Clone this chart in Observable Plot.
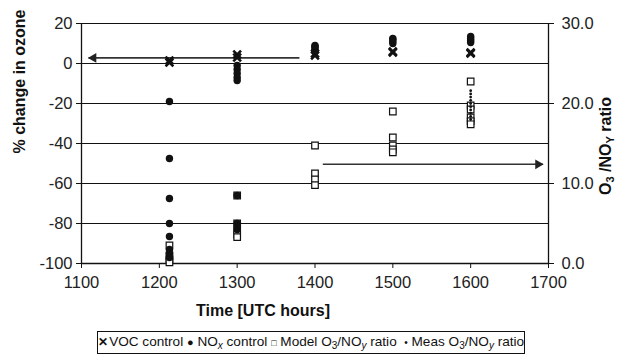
<!DOCTYPE html>
<html>
<head>
<meta charset="utf-8">
<script src="https://cdn.jsdelivr.net/npm/d3@7"></script>
<script src="https://cdn.jsdelivr.net/npm/@observablehq/plot@0.6"></script>
<style>
  body { margin: 0; background: #fff; }
  #wrap { position: relative; width: 621px; height: 358px; font-family: "Liberation Sans", Arial, sans-serif; }
  #legend { position: absolute; left: 97px; top: 331px; width: 428px; height: 23px; box-sizing: border-box;
    border: 1px solid #111; font-size: 13.6px; line-height: 20px; text-align: center; white-space: nowrap; color: #111; }
  #legend sub { font-size: 10px; line-height: 0; vertical-align: -3px; }
</style>
</head>
<body>
<div id="wrap"><div id="chart"></div>
<div id="legend"><b style="font-size:12px">&#x2715;</b>&#8202;VOC control <span style="font-size:11px">&#9679;</span> NO<sub><i>x</i></sub> control <span style="font-size:9px">&#9633;</span> Model O<sub>3</sub>/NO<sub><i>y</i></sub> ratio &#160;<span style="font-size:10px">&#8226;</span> Meas O<sub>3</sub>/NO<sub><i>y</i></sub> ratio</div>
</div>
<script>
// ---- data ----
const xTicks = [1100, 1200, 1300, 1400, 1500, 1600, 1700];
const leftTicks = [-100, -80, -60, -40, -20, 0, 20];
const rightTicks = [0, 10, 20, 30];

const vocTime = [1213, 1213, 1300, 1300, 1400, 1400, 1500, 1500, 1600, 1600];
const vocPct  = [1.5, 0.5, 4.5, 3, 4, 5, 5.5, 6, 5, 5.5];

const noxTime = [1213, 1213, 1213, 1213, 1213, 1213, 1213, 1213,
                 1300, 1300, 1300, 1300, 1300, 1300, 1300, 1300,
                 1400, 1400, 1400, 1400, 1400,
                 1500, 1500, 1500, 1500,
                 1600, 1600, 1600, 1600];
const noxPct  = [-19, -47.5, -67.5, -80, -86.5, -93, -95, -97,
                 -1, -3, -5, -7, -8.5, -66, -80, -83,
                 6, 7, 8, 8.5, 9,
                 10, 11, 12, 12.5,
                 10.5, 11.5, 12.5, 13.5];

const modelTime  = [1213, 1213, 1213, 1213,
                    1300, 1300, 1300, 1300, 1300,
                    1400, 1400, 1400, 1400,
                    1500, 1500, 1500, 1500, 1500,
                    1600, 1600, 1600, 1600, 1600, 1600];
const modelRatio = [2.25, 1, 0.5, 0.15,
                    8.5, 5, 4.25, 3.6, 3.3,
                    14.75, 11.25, 10.5, 9.8,
                    19, 15.75, 14.75, 14.25, 13.9,
                    22.75, 19.75, 19.25, 18.25, 17.8, 17.4];

const measTime  = [1600, 1600, 1600, 1600, 1600, 1600, 1600, 1600, 1600, 1600];
const measRatio = [21.6, 21.2, 20.8, 20.4, 20, 19.6, 19.2, 18.8, 18.4, 18];

// arrows: start time, end time (tip), axis, value on that axis
const arrowFrom  = [1380, 1410];
const arrowTo    = [1109, 1693];
const arrowAxis  = ["left", "right"];
const arrowValue = [2.8, 12.4];

// ---- build ----
const toLeft = r => r * 4 - 100;          // right-axis ratio (0..30) onto left scale (-100..20)
const fromLeft = v => (v + 100) / 4;

const voc = vocTime.map((t, i) => ({t, v: vocPct[i]}));
const nox = noxTime.map((t, i) => ({t, v: noxPct[i]}));
const model = modelTime.map((t, i) => ({t, v: toLeft(modelRatio[i])}));
const meas = measTime.map((t, i) => ({t, v: toLeft(measRatio[i])}));
const arrows = arrowFrom.map((f, i) => ({
  x1: f, x2: arrowTo[i],
  y: arrowAxis[i] === "left" ? arrowValue[i] : toLeft(arrowValue[i]),
  dir: arrowTo[i] < f ? -1 : 1
}));

const ink = "#111";
const chart = Plot.plot({
  width: 621, height: 326,
  marginLeft: 81, marginRight: 73, marginTop: 23, marginBottom: 63,
  x: {domain: [1100, 1700]},
  y: {domain: [-100, 20]},
  style: {fontFamily: "'Liberation Sans', Arial, sans-serif", fontSize: "16.5px", color: "#222", background: "#fff"},
  marks: [
    Plot.gridY(leftTicks.filter(d => d > -100), {stroke: ink, strokeOpacity: 1, strokeWidth: 1}),
    Plot.ruleY([-100], {stroke: ink, strokeWidth: 1.3}),
    Plot.ruleX([1100], {stroke: ink, strokeWidth: 1.3}),
    Plot.ruleX([1700], {stroke: ink, strokeWidth: 1.3}),
    Plot.axisX(xTicks, {tickSize: 5, tickPadding: 8, label: null, tickFormat: d => String(d), stroke: ink}),
    Plot.axisY(leftTicks, {anchor: "left", tickSize: 5, tickPadding: 4, label: null, tickFormat: d => String(d), stroke: ink}),
    Plot.axisY(rightTicks.map(toLeft), {anchor: "right", tickSize: 5, tickPadding: 8, label: null,
      tickFormat: d => fromLeft(d).toFixed(1), stroke: ink}),
    // arrows
    Plot.link(arrows, {x1: "x1", x2: "x2", y1: "y", y2: "y", stroke: "#333", strokeWidth: 1.6}),
    Plot.dot(arrows.filter(d => d.dir < 0), {x: "x2", y: "y", symbol: "triangle", r: 3.6, fill: "#222", stroke: "none",
      rotate: -90, dx: 5}),
    Plot.dot(arrows.filter(d => d.dir > 0), {x: "x2", y: "y", symbol: "triangle", r: 3.6, fill: "#222", stroke: "none",
      rotate: 90, dx: -5}),
    // series
    Plot.dot(model, {x: "t", y: "v", symbol: "square", r: 3.7, fill: "#fff", stroke: ink, strokeWidth: 1.2}),
    Plot.dot(nox, {x: "t", y: "v", symbol: "circle", r: 3.7, fill: ink, stroke: "none"}),
    Plot.dot(meas, {x: "t", y: "v", symbol: "circle", r: 1.4, fill: ink, stroke: "none"}),
    Plot.dot(voc, {x: "t", y: "v", symbol: "times", r: 3.6, stroke: ink, strokeWidth: 2.6}),
    // titles
    Plot.text(["% change in ozone"], {frameAnchor: "left", dx: -62, dy: 10, rotate: -90,
      fontWeight: "bold", fontSize: 16, fill: "#111"}),
    Plot.text(["Time [UTC hours]"], {frameAnchor: "bottom", dx: -52, dy: 52,
      fontWeight: "bold", fontSize: 16, fill: "#111"})
  ]
});
document.getElementById("chart").appendChild(chart);

// right axis title with subscripts
const svg = d3.select(chart.tagName.toLowerCase() === "svg" ? chart : chart.querySelector("svg"));
const rt = svg.append("text")
  .attr("transform", "translate(607,146) rotate(-90)")
  .attr("text-anchor", "middle")
  .attr("dominant-baseline", "middle")
  .attr("font-weight", "bold")
  .attr("font-size", 16)
  .attr("fill", "#111");
rt.append("tspan").text("O");
rt.append("tspan").attr("font-size", 11).attr("dy", 4).text("3");
rt.append("tspan").attr("dy", -4).text(" /NO");
rt.append("tspan").attr("font-size", 11).attr("dy", 4).text("Y");
rt.append("tspan").attr("dy", -4).text(" ratio");
</script>
</body>
</html>
